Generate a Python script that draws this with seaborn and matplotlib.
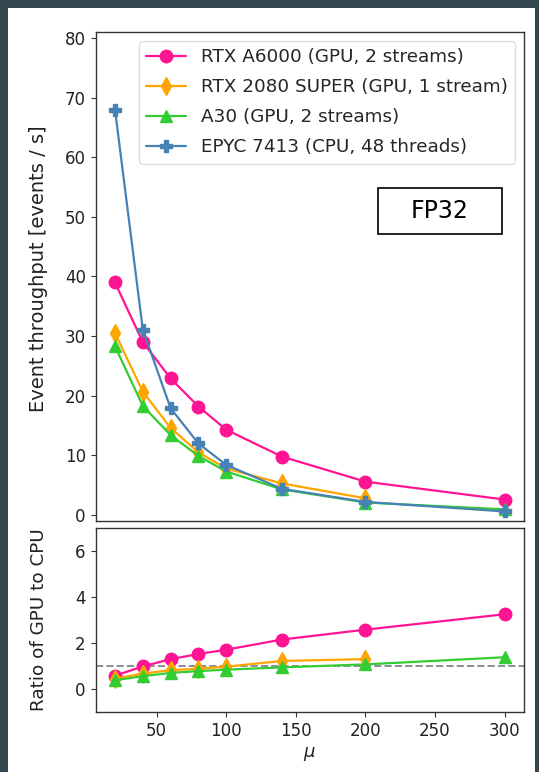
import matplotlib
matplotlib.use("Agg")
import matplotlib.pyplot as plt
from matplotlib.patches import Rectangle
import seaborn as sns

# ---------------- data ----------------
mu = [20, 40, 60, 80, 100, 140, 200, 300]
mu_2080 = [20, 40, 60, 80, 100, 140, 200]

labels = ["RTX A6000 (GPU, 2 streams)", "RTX 2080 SUPER (GPU, 1 stream)",
          "A30 (GPU, 2 streams)", "EPYC 7413 (CPU, 48 threads)"]

thr_a6000 = [39.0, 29.0, 22.9, 18.2, 14.3, 9.8, 5.6, 2.6]
thr_2080 = [30.5, 20.7, 14.6, 10.5, 7.8, 5.3, 2.8]
thr_a30 = [28.3, 18.3, 13.4, 9.9, 7.3, 4.3, 2.1, 0.95]
thr_epyc = [68.0, 31.1, 17.9, 12.0, 8.4, 4.4, 2.2, 0.6]

ratio_a6000 = [0.58, 0.98, 1.30, 1.52, 1.71, 2.15, 2.58, 3.25]
ratio_2080 = [0.45, 0.67, 0.82, 0.88, 0.97, 1.22, 1.30]
ratio_a30 = [0.38, 0.56, 0.70, 0.78, 0.84, 0.94, 1.07, 1.38]

colors = ["#ff1493", "#ffa500", "#32cd32", "#4682b4"]
markers = ["o", "d", "^", "P"]

# ---------------- figure ----------------
sns.set_style("ticks")
plt.rcParams["font.family"] = ["DejaVu Sans"]

W, H = 539, 772
fig = plt.figure(figsize=(W / 100, H / 100), dpi=100, facecolor="#35464f")
fig.patches.append(Rectangle((8 / W, 0), (535 - 8) / W, 1 - 8 / H,
                             transform=fig.transFigure, facecolor="white",
                             edgecolor="none", zorder=-10))

left = 95.5 / W
width = (524 - 95.5) / W
ax1 = fig.add_axes([left, 1 - 521 / H, width, (521 - 32) / H])
ax2 = fig.add_axes([left, 1 - 712 / H, width, (712 - 528) / H], sharex=ax1)

series_top = [(mu, thr_a6000), (mu_2080, thr_2080), (mu, thr_a30), (mu, thr_epyc)]
for (xs, ys), lab, c, m in zip(series_top, labels, colors, markers):
    sns.lineplot(x=xs, y=ys, ax=ax1, color=c, marker=m, markersize=9,
                 markeredgecolor=c, markeredgewidth=1, linewidth=1.6,
                 label=lab)

series_bot = [(mu, ratio_a6000), (mu_2080, ratio_2080), (mu, ratio_a30)]
for (xs, ys), c, m in zip(series_bot, colors[:3], markers[:3]):
    sns.lineplot(x=xs, y=ys, ax=ax2, color=c, marker=m, markersize=9,
                 markeredgecolor=c, markeredgewidth=1, linewidth=1.6)
ax2.axhline(1, color="#8a8f98", linestyle="--", linewidth=1.4, zorder=0)

ax1.set_ylim(-1, 81)
ax1.set_yticks([0, 10, 20, 30, 40, 50, 60, 70, 80])
ax2.set_ylim(-1, 7)
ax2.set_yticks([0, 2, 4, 6])
ax2.set_xticks([50, 100, 150, 200, 250, 300])
ax1.set_xlim(6, 314)

ax1.tick_params(axis="x", which="both", bottom=False, labelbottom=False)
for ax in (ax1, ax2):
    for s in ax.spines.values():
        s.set_visible(True)
        s.set_color("#333333")
        s.set_linewidth(1.0)
    ax.tick_params(labelsize=12, colors="#333333", labelcolor="#222222")

ax1.set_ylabel("Event throughput [events / s]", fontsize=14, color="#222222")
ax2.set_ylabel("Ratio of GPU to CPU", fontsize=13.2, color="#222222")
ax2.set_xlabel(r"$\mu$", fontsize=13, color="#222222")
ax1.yaxis.set_label_coords(-0.112, 0.515)
ax2.yaxis.set_label_coords(-0.112, 0.5)

leg = ax1.legend(loc="upper right", fontsize=13.2, frameon=True,
                 borderaxespad=0.5, handlelength=2.15, labelspacing=0.65)
leg.get_frame().set_edgecolor("#d8d8d8")

# FP32 annotation box
bx0 = (378 - 95.5) / (524 - 95.5)
by0 = (521 - 234) / (521 - 32)
bw = (502 - 378) / (524 - 95.5)
bh = (234 - 188) / (521 - 32)
ax1.add_patch(Rectangle((bx0, by0), bw, bh, transform=ax1.transAxes,
                        facecolor="white", edgecolor="black", linewidth=1.2,
                        zorder=5))
ax1.text(bx0 + bw / 2, by0 + bh / 2, "FP32", transform=ax1.transAxes,
         ha="center", va="center", fontsize=17, color="black", zorder=6)

fig.savefig("out.png", dpi=100, facecolor=fig.get_facecolor())
